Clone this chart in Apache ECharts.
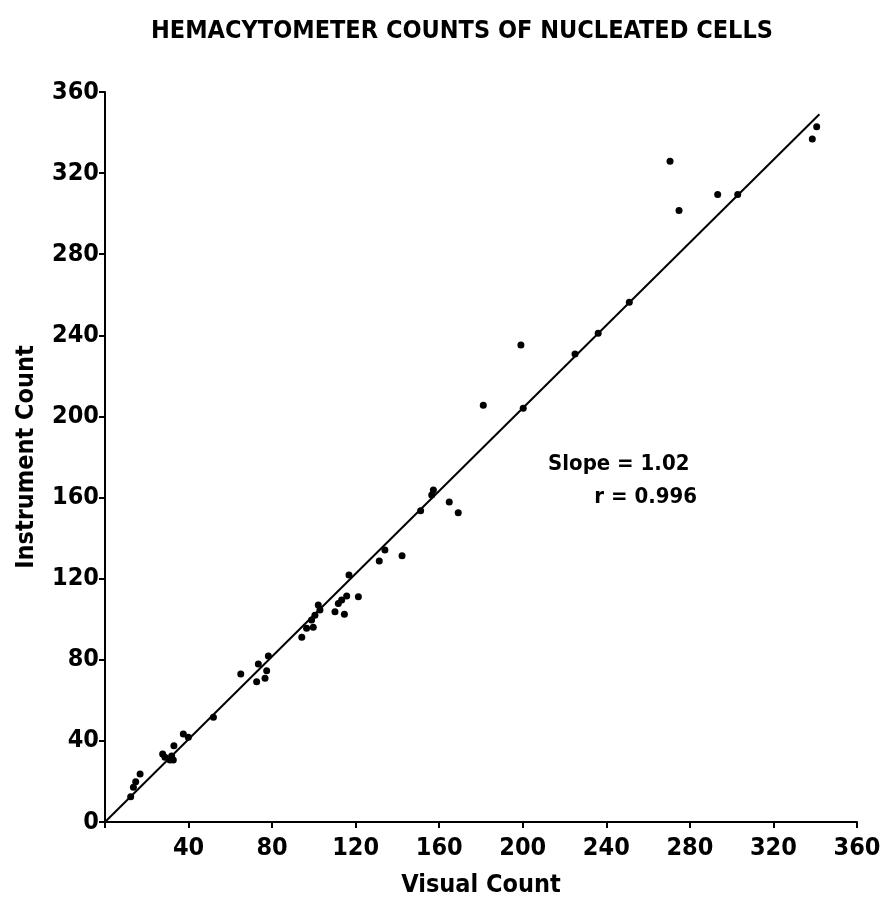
<!DOCTYPE html>
<html>
<head>
<meta charset="utf-8">
<script src="https://cdn.jsdelivr.net/npm/echarts@6/dist/echarts.min.js"></script>
<style>
html,body{margin:0;padding:0;background:#fff;}
#chart{width:888px;height:908px;}
</style>
</head>
<body>
<div id="chart"></div>
<script>
// Data
const titleText = 'HEMACYTOMETER COUNTS OF NUCLEATED CELLS';
const xAxisName = 'Visual Count';
const yAxisName = 'Instrument Count';
const slopeText = 'Slope = 1.02';
const rText = 'r = 0.996';

const visualCount = [12.3, 13.6, 14.7, 16.8, 27.6, 28.7, 31.1, 32.7, 31.9, 33.0,
  37.5, 39.9, 51.9, 65.0, 72.6, 73.4, 76.6, 77.4, 78.2, 94.2,
  96.5, 99.7, 98.9, 100.5, 102.1, 102.9, 110.1, 114.6, 111.7, 113.3,
  115.7, 121.3, 116.8, 131.3, 134.0, 142.2, 151.1, 156.4, 157.2, 164.8,
  169.1, 181.1, 199.1, 200.2, 225.0, 236.1, 251.0, 270.5, 274.8, 293.3,
  302.9, 338.6, 340.7];
const instrumentCount = [12.5, 17.1, 19.9, 23.7, 33.5, 31.9, 30.6, 30.6, 32.5, 37.6,
  43.4, 41.8, 51.6, 73.0, 69.2, 77.9, 70.9, 74.6, 81.9, 91.1,
  95.5, 96.0, 99.6, 102.0, 107.0, 104.5, 103.7, 102.4, 107.8, 109.5,
  111.4, 111.1, 121.8, 128.7, 134.1, 131.3, 153.5, 161.2, 163.7, 157.8,
  152.5, 205.5, 235.2, 204.0, 230.8, 241.0, 256.3, 325.9, 301.6, 309.5,
  309.5, 336.8, 342.9];

const fitLineX = [0, 342];
const fitLineY = [0, 349];

const axisMin = 0, axisMax = 360, axisStep = 40;

const narrow = "'Liberation Sans Narrow', 'DejaVu Sans Condensed', 'Liberation Sans', sans-serif";

const chart = echarts.init(document.getElementById('chart'), null, {renderer: 'canvas'});
const pts = visualCount.map((v, i) => [v, instrumentCount[i]]);
const fit = fitLineX.map((v, i) => [v, fitLineY[i]]);

chart.setOption({
  backgroundColor: '#ffffff',
  animation: false,
  grid: {left: 105, right: 31, top: 92, bottom: 86, containLabel: false},
  xAxis: {
    type: 'value', min: axisMin, max: axisMax, interval: axisStep,
    name: xAxisName, nameLocation: 'middle', nameGap: 51,
    nameTextStyle: {fontFamily: narrow, fontWeight: 'bold', fontSize: 25, color: '#000'},
    axisLine: {show: true, onZero: false, lineStyle: {color: '#000', width: 2}},
    axisTick: {show: true, inside: false, length: 6, lineStyle: {color: '#000', width: 2}},
    axisLabel: {margin: 14, fontFamily: narrow, fontWeight: 'bold', fontSize: 25, color: '#000',
      formatter: v => v === 0 ? '' : String(v)},
    splitLine: {show: false}
  },
  yAxis: {
    type: 'value', min: axisMin, max: axisMax, interval: axisStep,
    name: yAxisName, nameLocation: 'middle', nameGap: 66, nameRotate: 90,
    nameTextStyle: {fontFamily: narrow, fontWeight: 'bold', fontSize: 25, color: '#000'},
    axisLine: {show: true, onZero: false, lineStyle: {color: '#000', width: 2}},
    axisTick: {show: true, inside: false, length: 6, lineStyle: {color: '#000', width: 2}},
    axisLabel: {margin: 6, fontFamily: narrow, fontWeight: 'bold', fontSize: 25, color: '#000'},
    splitLine: {show: false}
  },
  graphic: [
    {type: 'text', x: 462, y: 31, style: {text: titleText, fill: '#000',
      font: "bold 25px " + narrow, textAlign: 'center', textVerticalAlign: 'middle'}},
    {type: 'text', x: 548, y: 464, style: {text: slopeText, fill: '#000',
      font: "bold 22px " + narrow, textAlign: 'left', textVerticalAlign: 'middle'}},
    {type: 'text', x: 697, y: 497, style: {text: rText, fill: '#000',
      font: "bold 22px " + narrow, textAlign: 'right', textVerticalAlign: 'middle'}}
  ],
  series: [
    {type: 'line', data: fit, showSymbol: false, symbol: 'none',
      lineStyle: {color: '#000', width: 2}, silent: true, z: 2},
    {type: 'scatter', data: pts, symbol: 'circle', symbolSize: 7,
      itemStyle: {color: '#000', opacity: 1}, z: 3}
  ]
});
</script>
</body>
</html>
